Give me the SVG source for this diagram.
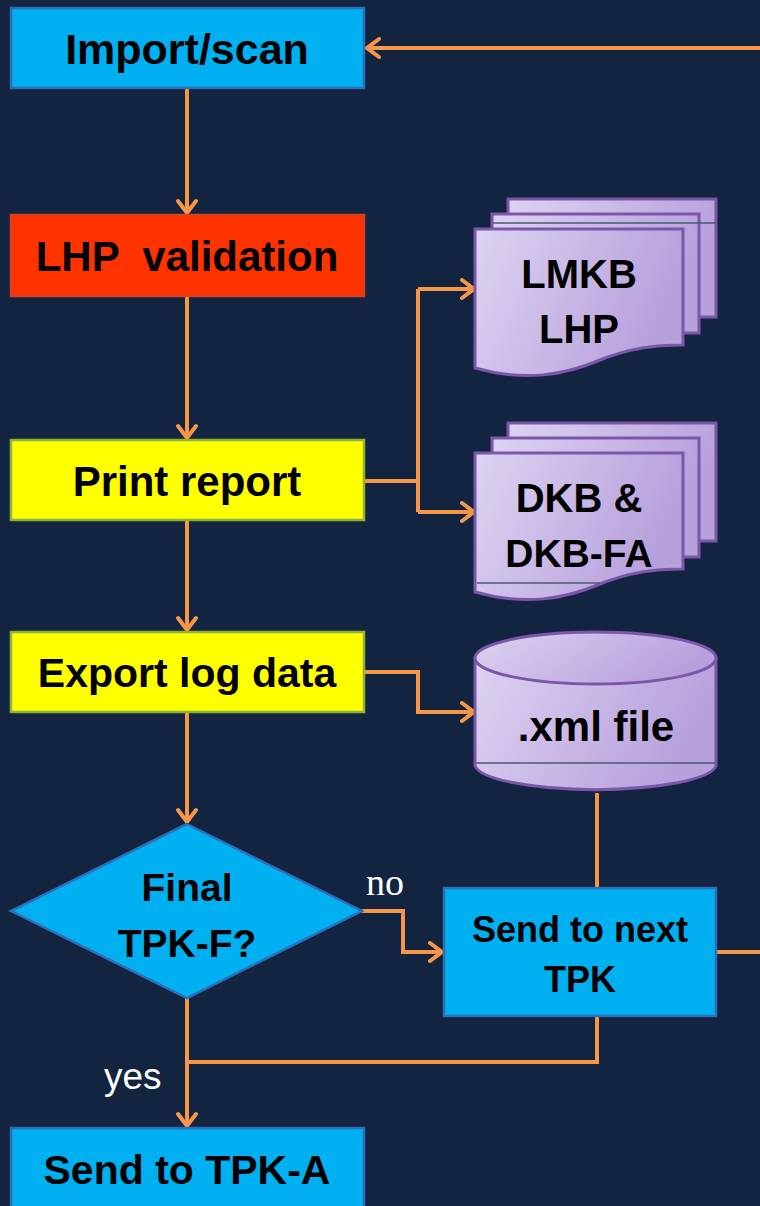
<svg xmlns="http://www.w3.org/2000/svg" width="760" height="1206" viewBox="0 0 760 1206">
<defs>
<linearGradient id="lav" x1="0" y1="0" x2="1" y2="0.3">
<stop offset="0" stop-color="#ddd3f1"/>
<stop offset="1" stop-color="#b7a0dc"/>
</linearGradient>
<marker id="arr" viewBox="0 0 20 22" refX="16" refY="11" markerWidth="20" markerHeight="22" orient="auto" markerUnits="userSpaceOnUse">
<path d="M4,2 L16,11 L4,20" fill="none" stroke="#f79646" stroke-width="4" stroke-linecap="round" stroke-linejoin="miter"/>
</marker>
<style>
.blue{fill:#00b0f0;stroke:#2e6db9;stroke-width:2.5}
.red{fill:#ff3300;stroke:#d9401f;stroke-width:2.5}
.yel{fill:#ffff00;stroke:#8fb23f;stroke-width:2.5}
.lav{fill:url(#lav);stroke:#7b56ab;stroke-width:3}
.t{font-family:"Liberation Sans",Arial,sans-serif;font-weight:bold;fill:#000;text-anchor:middle}
.t40{font-size:42px}
.t36{font-size:39px}
.c{fill:none;stroke:#f79646;stroke-width:4}
.thin{fill:none;stroke:#4a5a72;stroke-width:1.5}
</style>
</defs>
<rect x="0" y="0" width="760" height="1206" fill="#12243f"/>

<g id="connectors">
<path class="c" d="M760,48 L367,48" marker-end="url(#arr)"/>
<path class="c" d="M187,88 L187,213" marker-end="url(#arr)"/>
<path class="c" d="M187,296 L187,438" marker-end="url(#arr)"/>
<path class="c" d="M187,520 L187,630" marker-end="url(#arr)"/>
<path class="c" d="M187,712 L187,822" marker-end="url(#arr)"/>
<path class="c" d="M187,998 L187,1126" marker-end="url(#arr)"/>
<path class="c" d="M364,481 L418,481"/>
<path class="c" d="M418,289 L418,512"/>
<path class="c" d="M418,289 L474,289" marker-end="url(#arr)"/>
<path class="c" d="M418,512 L474,512" marker-end="url(#arr)"/>
<path class="c" d="M364,672 L418,672 L418,712 L474,712" marker-end="url(#arr)"/>
<path class="c" d="M597,793 L597,888"/>
<path class="c" d="M362,911 L403,911 L403,952 L442,952" marker-end="url(#arr)"/>
<path class="c" d="M716,952 L760,952"/>
<path class="c" d="M597,1016 L597,1062 L187,1062"/>
</g>

<g id="import">
<rect class="blue" x="11" y="8" width="353" height="80"/>
<text class="t" style="font-size:43px" x="187" y="64">Import/scan</text>
</g>

<g id="lhp">
<rect class="red" x="11" y="215" width="353" height="81"/>
<text class="t t40" x="187" y="271" xml:space="preserve">LHP  validation</text>
</g>

<g id="print">
<rect class="yel" x="11" y="440" width="353" height="80"/>
<text class="t t40" x="187" y="496">Print report</text>
</g>

<g id="export">
<rect class="yel" x="11" y="632" width="353" height="80"/>
<text class="t" style="font-size:41px" x="187" y="687">Export log data</text>
</g>

<g id="docs1">
<rect class="lav" x="508" y="199" width="208" height="118"/>
<rect class="lav" x="492" y="214" width="207" height="119"/>
<line class="thin" x1="493" y1="223" x2="716" y2="223"/>
<path class="lav" d="M475,229 L683,229 L683,345 C655,345 630,348 600,360 C565,375 525,382 475,368 Z"/>
<text class="t" style="font-size:40px" x="579" y="288">LMKB</text>
<text class="t" style="font-size:40px" x="579" y="343">LHP</text>
</g>

<g id="docs2">
<rect class="lav" x="508" y="423" width="208" height="118"/>
<rect class="lav" x="492" y="438" width="207" height="119"/>
<path class="lav" d="M475,453 L683,453 L683,569 C655,569 630,572 600,584 C565,599 525,606 475,592 Z"/>
<line class="thin" x1="477" y1="583" x2="600" y2="583"/>
<text class="t" style="font-size:40px" x="579" y="512">DKB &amp;</text>
<text class="t" style="font-size:39px" x="579" y="567">DKB-FA</text>
</g>

<g id="xml">
<path class="lav" d="M475,658 L475,766 A121,26 0 0 0 716,766 L716,658 Z"/>
<ellipse class="lav" cx="595.5" cy="658" rx="120.5" ry="26"/>
<line class="thin" x1="476" y1="763" x2="715" y2="763"/>
<text class="t t40" x="596" y="741">.xml file</text>
</g>

<g id="decision">
<polygon class="blue" points="187,824 362,911 187,998 11,911"/>
<text class="t t36" x="187" y="901">Final</text>
<text class="t t36" x="187" y="957">TPK-F?</text>
</g>

<g id="next">
<rect class="blue" x="444" y="888" width="272" height="128"/>
<text class="t" style="font-size:36px" x="580" y="942">Send to next</text>
<text class="t" style="font-size:36px" x="580" y="992">TPK</text>
</g>

<g id="tpka">
<rect class="blue" x="11" y="1128" width="353" height="90"/>
<text class="t" style="font-size:41px" x="187" y="1184">Send to TPK-A</text>
</g>

<g id="labels">
<text x="366" y="895" style="font-family:'Liberation Serif','Times New Roman',serif;font-size:38px;fill:#fff">no</text>
<text x="104" y="1089" style="font-family:'Liberation Sans',Arial,sans-serif;font-size:37px;fill:#fff">yes</text>
</g>
</svg>
